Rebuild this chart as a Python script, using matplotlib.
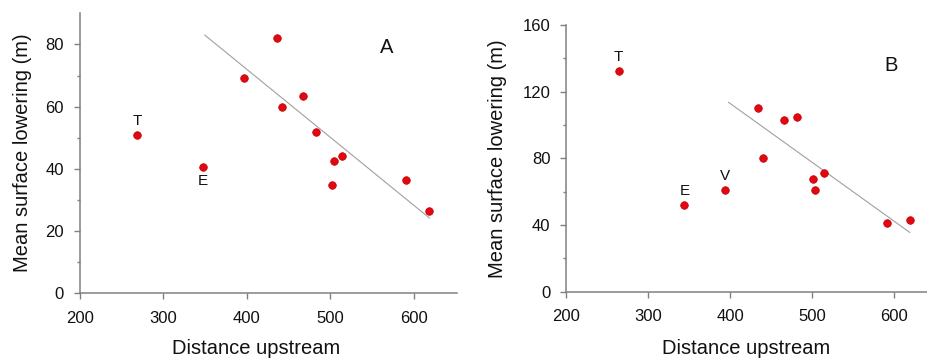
"""
plot.py

Mean surface lowering against distance upstream, two panels (A and B).
Output: out.png
"""

import matplotlib.pyplot as plt
from matplotlib.ticker import FixedLocator


# =============================
# DATA
# =============================

# Panel A
dist_a = [268.7, 347.8, 396.3, 436.2, 442.6, 467.4, 483.3, 501.7, 504.1, 514.5, 591.3, 618.9]
low_a = [50.8, 40.7, 69.1, 82.1, 60.0, 63.3, 52.0, 34.9, 42.4, 44.2, 36.3, 26.5]
fit_a_x = [349.6, 618.9]
fit_a_y = [83.0, 24.2]

# Panel B
dist_b = [263.9, 344.0, 393.5, 433.9, 440.4, 465.3, 481.3, 500.3, 503.1, 513.7, 591.3, 618.8]
low_b = [132.6, 52.0, 60.8, 110.0, 80.2, 103.2, 105.0, 67.8, 61.0, 71.2, 41.0, 42.8]
fit_b_x = [397.9, 618.8]
fit_b_y = [113.6, 35.6]

# labelled stations: (index into the arrays, letter, above?)
labels_a = [(0, "T", True), (1, "E", False)]
labels_b = [(0, "T", True), (1, "E", True), (2, "V", True)]

x_ticks = [200, 300, 400, 500, 600]
y_ticks_a = [0, 20, 40, 60, 80]
y_minor_a = [10, 30, 50, 70]
y_ticks_b = [0, 40, 80, 120, 160]
y_minor_b = [20, 60, 100, 140]


# =============================
# STYLE
# =============================

plt.rcParams["font.family"] = ["Liberation Sans", "DejaVu Sans"]

AXIS_GREY = "#808080"
DOT_RED = "#e30613"
TEXT = "#111111"


def draw_panel(ax, dist, low, fit_x, fit_y, labels, yticks, yminor, ylim,
               letter, letter_xy, xlabel_pos, ylabel_pos):
    ax.plot(fit_x, fit_y, color="#a0a0a0", lw=0.8, zorder=1)
    ax.scatter(dist, low, s=30, color=DOT_RED, edgecolors="#c00000",
               linewidths=0.5, zorder=3)

    for idx, text, above in labels:
        ax.annotate(text, (dist[idx], low[idx]),
                    xytext=(0, 10 if above else -10.5), textcoords="offset points",
                    ha="center", va="center", fontsize=11, color=TEXT)

    ax.text(letter_xy[0], letter_xy[1], letter, ha="center", va="center",
            fontsize=14.5, color=TEXT)

    ax.set_xlim(200, 652)
    ax.set_ylim(*ylim)
    ax.set_xticks(x_ticks)
    ax.set_yticks(yticks)
    ax.yaxis.set_minor_locator(FixedLocator(yminor))

    for side in ("top", "right"):
        ax.spines[side].set_visible(False)
    for side in ("left", "bottom"):
        ax.spines[side].set_color(AXIS_GREY)
        ax.spines[side].set_linewidth(1.1)

    ax.tick_params(axis="both", which="major", direction="out", length=4.5,
                   width=1.0, color=AXIS_GREY, labelsize=12, labelcolor=TEXT)
    ax.tick_params(axis="x", pad=8)
    ax.tick_params(axis="y", pad=7)
    ax.tick_params(axis="y", which="minor", direction="out", length=2.5,
                   width=1.0, color=AXIS_GREY)

    ax.set_xlabel("Distance upstream", fontsize=14.5, color=TEXT)
    ax.set_ylabel("Mean surface lowering (m)", fontsize=14.5, color=TEXT)
    ax.xaxis.set_label_coords(*xlabel_pos)
    ax.yaxis.set_label_coords(*ylabel_pos)


def main() -> None:
    fig = plt.figure(figsize=(9.28, 3.58), dpi=100)

    ax_a = fig.add_axes([0.0862, 0.1807, 0.4063, 0.7821])
    ax_b = fig.add_axes([0.6103, 0.1852, 0.3993, 0.7449])

    draw_panel(ax_a, dist_a, low_a, fit_a_x, fit_a_y, labels_a,
               y_ticks_a, y_minor_a, (0, 90), "A", (567.7, 79.0),
               (0.466, -0.163), (-0.128, 0.503))
    draw_panel(ax_b, dist_b, low_b, fit_b_x, fit_b_y, labels_b,
               y_ticks_b, y_minor_b, (0, 160), "B", (596.6, 135.6),
               (0.486, -0.177), (-0.161, 0.497))

    fig.savefig("out.png", dpi=100)
    plt.close(fig)


if __name__ == "__main__":
    main()
